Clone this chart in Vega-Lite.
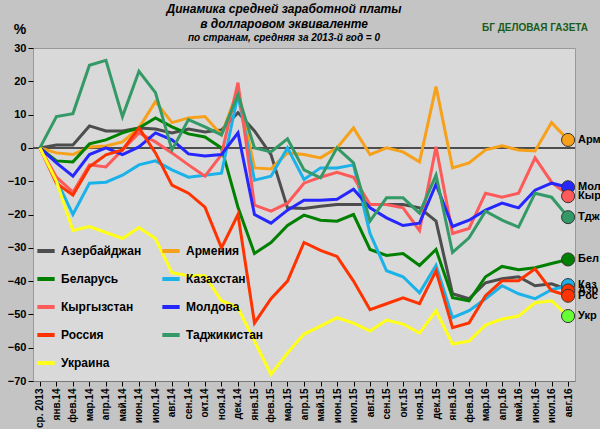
{
"$schema":"https://vega.github.io/schema/vega-lite/v6.json",
"autosize":"none","width":542,"height":333,
"padding":{"left":33,"top":48,"right":25,"bottom":48},
"background":"#c4c4c4",
"config":{"view":{"fill":"#d9d9d9","stroke":"#999999"},"font":"Liberation Sans",
"axisY":{"title":null,"values":[-70,-60,-50,-40,-30,-20,-10,0,10,20,30],"labelOverlap":false,"labelFontWeight":"bold","labelFontSize":11,"labelColor":"#000","gridColor":"#8c8c8c","gridWidth":1.5,"domain":false,"tickColor":"#000"}},
"title":{"text":["Динамика средней заработной платы","в долларовом эквиваленте"],"subtitle":"по странам, средняя за 2013-й год = 0","fontStyle":"italic","fontWeight":"bold","fontSize":12,"subtitleFontStyle":"italic","subtitleFontWeight":"bold","subtitleFontSize":10,"subtitleColor":"#000","subtitlePadding":2,"lineHeight":15,"offset":-21,"anchor":"middle","dx":-20},
"datasets":{
"main":[
{"m":"ср. 2013","Азербайджан":0,"Армения":0,"Беларусь":0,"Казахстан":0,"Кыргызстан":0,"Молдова":0,"Россия":0,"Таджикистан":0,"Украина":0},
{"m":"янв.14","Азербайджан":0.9,"Армения":-1.5,"Беларусь":-3.9,"Казахстан":-9.7,"Кыргызстан":-8.8,"Молдова":-4.5,"Россия":-10.6,"Таджикистан":9.4,"Украина":-10},
{"m":"фев.14","Азербайджан":0.9,"Армения":-2,"Беларусь":-4.2,"Казахстан":-20,"Кыргызстан":-13.3,"Молдова":-8.5,"Россия":-14.2,"Таджикистан":10.3,"Украина":-24.8},
{"m":"мар.14","Азербайджан":6.6,"Армения":0.3,"Беларусь":1.2,"Казахстан":-10.6,"Кыргызстан":-5.1,"Молдова":-2,"Россия":-5.7,"Таджикистан":24.8,"Украина":-23.6},
{"m":"апр.14","Азербайджан":5.1,"Армения":0.6,"Беларусь":2.4,"Казахстан":-10.3,"Кыргызстан":-5.7,"Молдова":0,"Россия":-2.1,"Таджикистан":26.3,"Украина":-25.4},
{"m":"май.14","Азербайджан":5.1,"Армения":1.8,"Беларусь":4.5,"Казахстан":-8.2,"Кыргызстан":-0.6,"Молдова":-2,"Россия":-0.6,"Таджикистан":9.4,"Украина":-27.2},
{"m":"июн.14","Азербайджан":6,"Армения":6,"Беларусь":6,"Казахстан":-5.1,"Кыргызстан":4.5,"Молдова":0.3,"Россия":6,"Таджикистан":23,"Украина":-23.9},
{"m":"июл.14","Азербайджан":5.7,"Армения":13.9,"Беларусь":9,"Казахстан":-3.9,"Кыргызстан":1.8,"Молдова":4.5,"Россия":-1.5,"Таджикистан":16.6,"Украина":-27.2},
{"m":"авг.14","Азербайджан":4.5,"Армения":7.6,"Беларусь":6.3,"Казахстан":-6.6,"Кыргызстан":-1.5,"Молдова":2.4,"Россия":-11.2,"Таджикистан":-0.6,"Украина":-37.5},
{"m":"сен.14","Азербайджан":5.7,"Армения":9,"Беларусь":4.2,"Казахстан":-8.8,"Кыргызстан":-5.1,"Молдова":-1.8,"Россия":-13.6,"Таджикистан":8.5,"Украина":-38.4},
{"m":"окт.14","Азербайджан":4.8,"Армения":9.4,"Беларусь":3.3,"Казахстан":-8.2,"Кыргызстан":-8.5,"Молдова":-2.4,"Россия":-17.8,"Таджикистан":6.3,"Украина":-38.4},
{"m":"ноя.14","Азербайджан":5.4,"Армения":3.9,"Беларусь":0,"Казахстан":-7.6,"Кыргызстан":-2,"Молдова":-2,"Россия":-30,"Таджикистан":3.9,"Украина":-45.9},
{"m":"дек.14","Азербайджан":10.6,"Армения":17.5,"Беларусь":-17.8,"Казахстан":16,"Кыргызстан":19.6,"Молдова":4.5,"Россия":-20,"Таджикистан":16,"Украина":-48},
{"m":"янв.15","Азербайджан":5.1,"Армения":-6,"Беларусь":-31.7,"Казахстан":-9.7,"Кыргызстан":-17.2,"Молдова":-20,"Россия":-52.6,"Таджикистан":0,"Украина":-58},
{"m":"фев.15","Азербайджан":-2,"Армения":-6.3,"Беларусь":-28.4,"Казахстан":-8.5,"Кыргызстан":-19,"Молдова":-22.6,"Россия":-45.3,"Таджикистан":-1.2,"Украина":-68},
{"m":"мар.15","Азербайджан":-18,"Армения":-1.5,"Беларусь":-23.3,"Казахстан":0,"Кыргызстан":-16.6,"Молдова":-18.7,"Россия":-40,"Таджикистан":2.7,"Украина":-61.6},
{"m":"апр.15","Азербайджан":-18.2,"Армения":-2,"Беларусь":-20.2,"Казахстан":-9.5,"Кыргызстан":-10.6,"Молдова":-15.7,"Россия":-28.4,"Таджикистан":-6.6,"Украина":-55.9},
{"m":"май.15","Азербайджан":-17.5,"Армения":-3,"Беларусь":-21.7,"Казахстан":-6,"Кыргызстан":-8.8,"Молдова":-15.7,"Россия":-30.8,"Таджикистан":-9,"Украина":-53.5},
{"m":"июн.15","Азербайджан":-17,"Армения":0,"Беларусь":-22,"Казахстан":-6,"Кыргызстан":-7.3,"Молдова":-15.4,"Россия":-32.6,"Таджикистан":0,"Украина":-51},
{"m":"июл.15","Азербайджан":-17,"Армения":6,"Беларусь":-20,"Казахстан":-5.1,"Кыргызстан":-8.8,"Молдова":-12.4,"Россия":-40,"Таджикистан":-4.5,"Украина":-52.6},
{"m":"авг.15","Азербайджан":-17,"Армения":-2,"Беларусь":-30.5,"Казахстан":-25.7,"Кыргызстан":-17,"Молдова":-18,"Россия":-48.6,"Таджикистан":-22,"Украина":-55},
{"m":"сен.15","Азербайджан":-17,"Армения":0,"Беларусь":-32.3,"Казахстан":-36.9,"Кыргызстан":-17,"Молдова":-21,"Россия":-46.8,"Таджикистан":-15,"Украина":-51.7},
{"m":"окт.15","Азербайджан":-17,"Армения":-1.2,"Беларусь":-31.7,"Казахстан":-38.7,"Кыргызстан":-18,"Молдова":-23.3,"Россия":-45,"Таджикистан":-15,"Украина":-52.9},
{"m":"ноя.15","Азербайджан":-18,"Армения":-4.2,"Беларусь":-35.3,"Казахстан":-43.5,"Кыргызстан":-24.8,"Молдова":-22.6,"Россия":-46.8,"Таджикистан":-19.6,"Украина":-55.6},
{"m":"дек.15","Азербайджан":-22,"Армения":18.4,"Беларусь":-30.5,"Казахстан":-35.3,"Кыргызстан":0.3,"Молдова":-10.9,"Россия":-36.9,"Таджикистан":-8.2,"Украина":-48.9},
{"m":"янв.16","Азербайджан":-43.8,"Армения":-6,"Беларусь":-45,"Казахстан":-51,"Кыргызстан":-25.7,"Молдова":-23.6,"Россия":-54,"Таджикистан":-31.4,"Украина":-58.9},
{"m":"фев.16","Азербайджан":-45.3,"Армения":-4.5,"Беларусь":-45.9,"Казахстан":-48.9,"Кыргызстан":-24.2,"Молдова":-21.7,"Россия":-52.6,"Таджикистан":-27,"Украина":-58},
{"m":"мар.16","Азербайджан":-40.5,"Армения":-0.6,"Беларусь":-38.7,"Казахстан":-45.3,"Кыргызстан":-13.6,"Молдова":-18.7,"Россия":-44.4,"Таджикистан":-19,"Украина":-53.2},
{"m":"апр.16","Азербайджан":-39.3,"Армения":0.6,"Беларусь":-35.6,"Казахстан":-41.4,"Кыргызстан":-14.8,"Молдова":-16.6,"Россия":-39.9,"Таджикистан":-21.7,"Украина":-51.4},
{"m":"май.16","Азербайджан":-38.7,"Армения":-0.6,"Беларусь":-36.6,"Казахстан":-43.8,"Кыргызстан":-13.6,"Молдова":-18,"Россия":-39.9,"Таджикистан":-23.8,"Украина":-50.5},
{"m":"июн.16","Азербайджан":-41.4,"Армения":-0.9,"Беларусь":-36,"Казахстан":-45.3,"Кыргызстан":-3,"Молдова":-12.7,"Россия":-36.3,"Таджикистан":-13.6,"Украина":-46.5},
{"m":"июл.16","Азербайджан":-40.8,"Армения":7.6,"Беларусь":-34.7,"Казахстан":-42.6,"Кыргызстан":-10.3,"Молдова":-10.6,"Россия":-42.9,"Таджикистан":-14.8,"Украина":-45.9},
{"m":"авг.16","Азербайджан":-42.6,"Армения":2.4,"Беларусь":-33.5,"Казахстан":-41.4,"Кыргызстан":-14.2,"Молдова":-11.8,"Россия":-44.4,"Таджикистан":-20.8,"Украина":-50.5}
],
"ends":[
{"m":"авг.16","v":2.4,"l":"Арм","col":"#f7a11a"},
{"m":"авг.16","v":-11.8,"l":"Мол","col":"#2626ff"},
{"m":"авг.16","v":-14.5,"l":"Кыр","col":"#ff5a5a"},
{"m":"авг.16","v":-20.8,"l":"Тдж","col":"#339966"},
{"m":"авг.16","v":-33.5,"l":"Бел","col":"#008000"},
{"m":"авг.16","v":-41.2,"l":"Каз","col":"#1ab2e8"},
{"m":"авг.16","v":-42.8,"l":"Азр","col":"#ff3300"},
{"m":"авг.16","v":-44.4,"l":"Рос","col":"#ff3300"},
{"m":"авг.16","v":-50.5,"l":"Укр","col":"#66ff33"}
]},
"encoding":{
"x":{"field":"m","type":"ordinal","scale":{"type":"point","padding":0.42},
"sort":["ср. 2013","янв.14","фев.14","мар.14","апр.14","май.14","июн.14","июл.14","авг.14","сен.14","окт.14","ноя.14","дек.14","янв.15","фев.15","мар.15","апр.15","май.15","июн.15","июл.15","авг.15","сен.15","окт.15","ноя.15","дек.15","янв.16","фев.16","мар.16","апр.16","май.16","июн.16","июл.16","авг.16"],
"axis":{"title":null,"labelAngle":270,"labelFontWeight":"bold","labelFontSize":10,"labelColor":"#000","tickColor":"#000","domainColor":"#777","grid":false}}
},
"layer":[
{"data":{"name":"main"},"mark":{"type":"rule","color":"#4d4d4d","strokeWidth":2},"encoding":{"y":{"datum":0,"scale":{"domain":[-70,30]}},"x":null}},
{"data":{"name":"main"},"transform":[{"fold":["Азербайджан","Армения","Беларусь","Казахстан","Кыргызстан","Молдова","Россия","Таджикистан","Украина"],"as":["c","v"]}],
"mark":{"type":"line","strokeWidth":3},
"encoding":{
"y":{"field":"v","type":"quantitative","scale":{"domain":[-70,30]}},
"color":{"field":"c","type":"nominal","scale":{"domain":["Азербайджан","Армения","Беларусь","Казахстан","Кыргызстан","Молдова","Россия","Таджикистан","Украина"],"range":["#4d4d4d","#f7a11a","#008000","#1ab2e8","#ff5a5a","#2626ff","#ff3300","#339966","#ffff1a"]},
"legend":{"title":null,"orient":"none","legendX":2,"legendY":192,"columns":2,"direction":"horizontal","symbolType":"stroke","symbolStrokeWidth":4,"symbolSize":300,"labelFontSize":12,"labelFontWeight":"bold","labelColor":"#000","rowPadding":9,"columnPadding":12,"labelLimit":200}}}},
{"data":{"name":"ends"},"mark":{"type":"point","filled":true,"size":170,"stroke":"#333","strokeWidth":1,"opacity":1},
"encoding":{"y":{"field":"v","type":"quantitative"},"fill":{"field":"col","type":"nominal","scale":null}}},
{"data":{"name":"ends"},"mark":{"type":"text","align":"left","dx":10,"fontWeight":"bold","fontSize":11,"clip":false},
"encoding":{"y":{"field":"v","type":"quantitative"},"text":{"field":"l"}}},
{"data":{"values":[{"m":"ср. 2013","v":35.5,"t":"%"}]},"mark":{"type":"text","fontWeight":"bold","fontSize":14,"dx":-20,"clip":false},
"encoding":{"y":{"field":"v","type":"quantitative"},"text":{"field":"t"}}},
{"data":{"values":[{"m":"июн.16","v":36,"t":"БГ ДЕЛОВАЯ ГАЗЕТА"}]},"mark":{"type":"text","fontWeight":"bold","fontSize":10,"color":"#1a5c1a","clip":false},
"encoding":{"y":{"field":"v","type":"quantitative"},"text":{"field":"t"}}}
]
}
